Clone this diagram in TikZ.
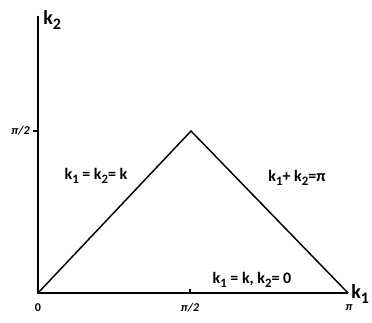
\documentclass[tikz,border=0pt]{standalone}
\usepackage{fontspec}
\setmainfont{Carlito}
\newcommand{\ksub}[1]{k\raisebox{-0.5ex}{\fontsize{0.8em}{1em}\selectfont #1}}
\begin{document}
\begin{tikzpicture}[x=0.75pt,y=-0.75pt,
  axis/.style={line width=1.8pt},
  edge/.style={line width=1.1pt, line join=miter},
  lbl/.style={font=\bfseries\fontsize{12pt}{14pt}\selectfont, inner sep=0pt},
  axlbl/.style={font=\bfseries\fontsize{15pt}{17pt}\selectfont, inner sep=0pt},
  tick/.style={font=\bfseries\fontsize{9pt}{10pt}\selectfont, inner sep=0pt}]
\useasboundingbox (0,0) rectangle (372,323);
\coordinate (O) at (38,293);
\coordinate (Ytop) at (38,16);
\coordinate (Xend) at (348,293);
\coordinate (A) at (191,131);
\coordinate (Yt) at (33,131);
\coordinate (Xt) at (190,293);
\coordinate (Xtt) at (190,289);
\draw[axis] (Ytop) -- (O) -- (Xend);
\draw[line width=1pt] (Yt) -- (38,131);
\draw[line width=1pt] (Xt) -- (Xtt);
\draw[edge] (O) -- (A) -- (Xend);
\node[axlbl, anchor=west] (k2) at (43,20) {\ksub{2}};
\node[axlbl, anchor=west] (k1) at (351,294) {\ksub{1}};
\node[tick] (t0) at (38,308) {0};
\node[tick] (tx) at (190,308) {\itshape π/2};
\node[tick] (tpi) at (349,308) {\itshape π};
\node[tick, anchor=east] (ty) at (30,131) {\itshape π/2};
\node[lbl] (l1) at (96,176) {\ksub{1} = \ksub{2}= k};
\node[lbl] (l2) at (297,178) {\ksub{1}+ \ksub{2}=π};
\node[lbl] (l3) at (252,280) {\ksub{1} = k, \ksub{2}= 0};
\end{tikzpicture}
\end{document}
